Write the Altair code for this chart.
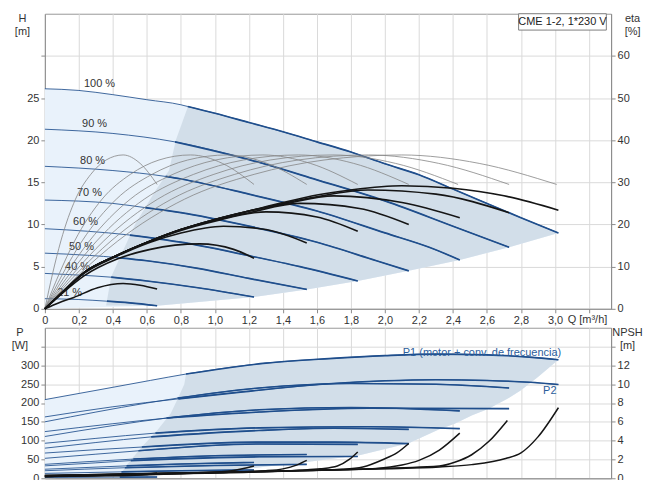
import altair as alt
import pandas as pd

FONT = "Liberation Sans"
BLUE = "#1f4e8c"
LIGHT = "#e9f2fb"
DARK = "#cfdbe7"
GREY = "#858585"
BLACK = "#151515"
TXT = "#333333"

Q_DOMAIN = [0, 3.33]
H_DOMAIN = [0, 35]
ETA_DOMAIN = [0, 70]
P_DOMAIN = [0, 400]
NPSH_DOMAIN = [0, 16]

Q_TICKS = [0, 0.2, 0.4, 0.6, 0.8, 1.0, 1.2, 1.4, 1.6, 1.8, 2.0, 2.2, 2.4, 2.6, 2.8, 3.0, 3.2]
H_TICKS = [0, 5, 10, 15, 20, 25, 30]
ETA_TICKS = [0, 10, 20, 30, 40, 50, 60]
P_TICKS = [0, 50, 100, 150, 200, 250, 300, 350]
NPSH_TICKS = [0, 2, 4, 6, 8, 10, 12, 14]

# ---------- H-Q curves (Q in m3/h, H in m) ----------
Q100 = [0, 0.2, 0.4, 0.6, 0.8, 0.84, 1.0, 1.2, 1.4, 1.6, 1.8, 2.0, 2.2, 2.4, 2.6, 2.8, 3.02]
H100 = [26.1, 25.9, 25.4, 24.8, 24.2, 24.0, 23.2, 22.1, 21.0, 19.8, 18.6, 17.2, 15.9, 14.2, 12.5, 10.8, 9.0]
Q90 = [0, 0.4, 0.765, 1.2, 1.6, 2.0, 2.4, 2.73]
H90 = [21.3, 20.8, 19.8, 17.7, 15.3, 12.8, 9.8, 7.3]
Q80 = [0, 0.4, 0.71, 0.8, 1.2, 1.6, 2.0, 2.26, 2.44]
H80 = [16.9, 16.4, 15.7, 15.4, 13.6, 11.6, 9.0, 7.3, 5.8]
Q70 = [0, 0.4, 0.59, 0.8, 1.2, 1.6, 1.95, 2.14]
H70 = [12.9, 12.5, 12.0, 11.4, 9.8, 7.9, 5.7, 4.5]
Q60 = [0, 0.25, 0.5, 0.8, 1.2, 1.5, 1.84]
H60 = [9.5, 9.2, 8.75, 7.9, 6.3, 5.0, 3.3]
Q50 = [0, 0.25, 0.44, 0.6, 0.9, 1.2, 1.54]
H50 = [6.6, 6.35, 6.05, 5.7, 4.8, 3.6, 2.3]
Q40 = [0, 0.2, 0.39, 0.6, 0.9, 1.23]
H40 = [4.2, 4.0, 3.75, 3.3, 2.5, 1.4]
Q21 = [0, 0.2, 0.365, 0.5, 0.66]
H21 = [1.2, 1.1, 0.9, 0.7, 0.36]
# where each H-Q curve enters the darker shaded range (drawn thicker from there on)
HQ_SPLIT = [0.84, 0.765, 0.71, 0.59, 0.5, 0.44, 0.39, 0.365]

SPEED_TEXT = ["100 %", "90 %", "80 %", "70 %", "60 %", "50 %", "40 %", "21 %"]
SPEED_Q = [0.23, 0.219, 0.207, 0.189, 0.166, 0.142, 0.119, 0.072]
SPEED_H = [26.7, 21.9, 17.5, 13.7, 10.3, 7.3, 4.96, 1.9]

# shading of the operating range (top)
LOW_H_Q = [3.02, 2.73, 2.44, 2.14, 1.84, 1.54, 1.23, 0.66, 0]
LOW_H = [9.0, 7.3, 5.8, 4.5, 3.3, 2.3, 1.4, 0.36, 0]
DIV_H_Q = [0.36, 0.39, 0.53, 0.65, 0.73, 0.77, 0.84]
DIV_H = [0.4, 3.8, 10.0, 14.0, 16.4, 20.0, 23.9]

# ---------- efficiency curves, thin grey (eta %) ----------
GREY_ETA = [0, 8.3, 16.1, 26.0, 31.9, 35.3, 36.5, 34.5, 29.5]
G21_Q = [0, 0.045, 0.094, 0.18, 0.27, 0.36, 0.46, 0.56, 0.66]
G40_Q = [0, 0.084, 0.175, 0.336, 0.503, 0.671, 0.857, 1.044, 1.23]
G50_Q = [0, 0.105, 0.219, 0.42, 0.63, 0.84, 1.073, 1.307, 1.54]
G60_Q = [0, 0.125, 0.262, 0.502, 0.753, 1.004, 1.282, 1.561, 1.84]
G70_Q = [0, 0.146, 0.305, 0.584, 0.875, 1.167, 1.491, 1.816, 2.14]
G80_Q = [0, 0.166, 0.346, 0.663, 0.994, 1.325, 1.694, 2.062, 2.43]
G90_Q = [0, 0.186, 0.389, 0.744, 1.117, 1.489, 1.903, 2.316, 2.73]
G100_Q = [0, 0.205, 0.429, 0.821, 1.231, 1.642, 2.098, 2.554, 3.01]

# ---------- efficiency curves, thick black (eta %) ----------
B21_Q = [0, 0.08, 0.17, 0.31, 0.46, 0.56, 0.66]
B21_E = [0, 1.4, 2.7, 5.0, 6.0, 5.6, 4.7]
B40_Q = [0, 0.1, 0.23, 0.425, 0.62, 0.91, 1.11, 1.23]
B40_E = [0, 3.6, 7.8, 11.8, 14.1, 15.4, 14.1, 12.0]
B50_Q = [0, 0.1, 0.23, 0.42, 0.62, 0.8, 1.05, 1.3, 1.54]
B50_E = [0, 3.8, 8.4, 12.4, 15.8, 18.0, 19.6, 18.8, 15.6]
B60_Q = [0, 0.1, 0.23, 0.42, 0.62, 0.8, 1.0, 1.3, 1.6, 1.84]
B60_E = [0, 3.8, 8.6, 12.6, 16.0, 18.6, 20.8, 23.0, 21.8, 18.4]
B70_Q = [0, 0.1, 0.23, 0.42, 0.62, 0.8, 1.0, 1.2, 1.5, 1.85, 2.14]
B70_E = [0, 3.8, 8.6, 12.6, 16.1, 18.8, 21.0, 22.8, 25.0, 23.8, 20.0]
B80_Q = [0, 0.1, 0.23, 0.42, 0.62, 0.8, 1.0, 1.2, 1.4, 1.7, 2.1, 2.44]
B80_E = [0, 3.8, 8.6, 12.6, 16.1, 18.8, 21.2, 23.2, 24.8, 26.8, 25.2, 21.6]
B90_Q = [0, 0.1, 0.23, 0.42, 0.62, 0.8, 1.0, 1.2, 1.4, 1.6, 1.9, 2.3, 2.73]
B90_E = [0, 3.8, 8.6, 12.6, 16.1, 18.8, 21.2, 23.2, 25.0, 26.6, 28.2, 27.2, 22.8]
B100_Q = [0, 0.1, 0.23, 0.42, 0.62, 0.8, 1.0, 1.2, 1.4, 1.6, 1.8, 2.1, 2.4, 2.7, 3.02]
B100_E = [0, 3.8, 8.6, 12.6, 16.1, 18.8, 21.2, 23.2, 25.2, 27.0, 28.2, 29.2, 28.6, 26.8, 23.4]

# ---------- power curves (W) ----------
P1_100_Q = [0, 0.33, 0.62, 0.83, 1.3, 1.67, 2.0, 2.3, 2.6, 2.85, 3.02]
P1_100 = [209, 236, 260, 277, 306, 318, 326, 330, 328, 322, 315]
P2_100_Q = [0, 0.4, 0.785, 1.15, 1.67, 2.0, 2.3, 2.6, 2.85, 3.02]
P2_100 = [163, 190, 211, 229, 251, 259, 262, 260, 255, 249]
P1_90_Q = [0, 0.6, 0.78, 1.26, 1.8, 2.3, 2.73]
P1_90 = [150, 200, 213, 240, 252, 250, 240]
P2_90_Q = [0, 0.4, 0.72, 1.26, 1.9, 2.73]
P2_90 = [124, 145, 160, 176, 186, 185]
P1_80_Q = [0, 0.4, 0.715, 1.26, 1.8, 2.44]
P1_80 = [111, 140, 160, 182, 188, 179]
P2_80_Q = [0, 0.3, 0.65, 1.26, 1.9, 2.44]
P2_80 = [93, 106, 120, 134, 137, 132]
P1_70_Q = [0, 0.3, 0.625, 1.26, 1.7, 2.14]
P1_70 = [80, 95, 110, 127, 133, 130]
P2_70_Q = [0, 0.3, 0.57, 1.26, 1.7, 2.14]
P2_70 = [67, 76, 83, 96, 96, 92]
P1_60_Q = [0, 0.3, 0.55, 1.26, 1.84]
P1_60 = [53, 64, 73, 91, 90]
P2_60_Q = [0, 0.3, 0.505, 1.26, 1.84]
P2_60 = [33, 41, 47, 57, 58]
P1_50_Q = [0, 0.52, 1.0, 1.54]
P1_50 = [37, 51, 60, 63]
P2_50_Q = [0, 0.47, 1.0, 1.54]
P2_50 = [20, 28, 34, 37]
P1_40_Q = [0, 0.48, 0.8, 1.23]
P1_40 = [24, 33, 38, 42]
P2_40_Q = [0, 0.45, 0.8, 1.23]
P2_40 = [13, 17, 20, 22]
P1_21_Q = [0, 0.44, 0.66]
P1_21 = [8, 9.8, 10.5]
P2_21_Q = [0, 0.44, 0.66]
P2_21 = [2, 3.0, 3.2]
# where each power curve enters the darker shaded range
P_SPLIT = [0.83, 0.785, 0.78, 0.72, 0.715, 0.65, 0.625, 0.57, 0.55, 0.505, 0.52, 0.47, 0.48, 0.45, 0.44, 0.44]

LOW_P_Q = [3.02, 2.90, 2.80, 2.72, 2.61, 2.51, 2.41, 2.32, 2.14, 1.85, 1.54, 1.2, 0.9, 0.6, 0.3, 0]
LOW_P = [315, 269, 234, 211, 185, 167, 145, 130, 93, 61, 43, 26, 15, 8, 3, 0]
DIV_P_Q = [0.44, 0.49, 0.57, 0.66, 0.74, 0.78, 0.82, 0.83]
DIV_P = [8, 40, 83, 127, 172, 210, 250, 277]

# ---------- NPSH curves (m) ----------
N21_Q = [0, 0.3, 0.5, 0.6, 0.66]
N21 = [0.2, 0.25, 0.3, 0.4, 0.55]
N40_Q = [0, 0.5, 0.9, 1.1, 1.23]
N40 = [0.2, 0.35, 0.55, 0.8, 1.3]
N50_Q = [0, 0.5, 1.0, 1.3, 1.4, 1.48, 1.54]
N50 = [0.2, 0.4, 0.6, 0.8, 1.0, 1.4, 1.9]
N60_Q = [0, 0.6, 1.2, 1.5, 1.62, 1.72, 1.79, 1.84]
N60 = [0.2, 0.45, 0.65, 0.85, 1.0, 1.3, 2.0, 2.8]
N70_Q = [0, 0.7, 1.4, 1.75, 1.87, 1.99, 2.07, 2.14]
N70 = [0.25, 0.5, 0.75, 0.95, 1.2, 2.0, 2.7, 3.7]
N80_Q = [0, 0.8, 1.6, 1.95, 2.1, 2.2, 2.32, 2.44]
N80 = [0.25, 0.55, 0.85, 1.05, 1.4, 1.9, 3.0, 4.8]
N90_Q = [0, 0.9, 1.8, 2.32, 2.41, 2.51, 2.61, 2.72]
N90 = [0.3, 0.6, 0.95, 1.3, 1.7, 2.5, 3.9, 6.15]
N100_Q = [0, 1.0, 2.0, 2.32, 2.51, 2.71, 2.80, 2.90, 3.02]
N100 = [0.3, 0.65, 1.0, 1.2, 1.45, 2.1, 2.7, 4.4, 7.5]

LEGEND_TEXT = "CME 1-2, 1*230 V"
P1_TEXT = "P1 (motor + conv. de frecuencia)"
P2_TEXT = "P2"


def curves(items, splits=None):
    frames = []
    for k, (name, q, v) in enumerate(items):
        df = pd.DataFrame({"Q": q, "V": v, "curve": name, "i": list(range(len(q)))})
        df["split"] = splits[k] if splits is not None else 0.0
        frames.append(df)
    return pd.concat(frames, ignore_index=True)


hq_df = curves([("100", Q100, H100), ("90", Q90, H90), ("80", Q80, H80), ("70", Q70, H70),
                ("60", Q60, H60), ("50", Q50, H50), ("40", Q40, H40), ("21", Q21, H21)], HQ_SPLIT)
grey_df = curves([("21", G21_Q, GREY_ETA), ("40", G40_Q, GREY_ETA), ("50", G50_Q, GREY_ETA),
                  ("60", G60_Q, GREY_ETA), ("70", G70_Q, GREY_ETA), ("80", G80_Q, GREY_ETA),
                  ("90", G90_Q, GREY_ETA), ("100", G100_Q, GREY_ETA)])
black_df = curves([("21", B21_Q, B21_E), ("40", B40_Q, B40_E), ("50", B50_Q, B50_E),
                   ("60", B60_Q, B60_E), ("70", B70_Q, B70_E), ("80", B80_Q, B80_E),
                   ("90", B90_Q, B90_E), ("100", B100_Q, B100_E)])
p_df = curves([("p1_100", P1_100_Q, P1_100), ("p2_100", P2_100_Q, P2_100),
               ("p1_90", P1_90_Q, P1_90), ("p2_90", P2_90_Q, P2_90),
               ("p1_80", P1_80_Q, P1_80), ("p2_80", P2_80_Q, P2_80),
               ("p1_70", P1_70_Q, P1_70), ("p2_70", P2_70_Q, P2_70),
               ("p1_60", P1_60_Q, P1_60), ("p2_60", P2_60_Q, P2_60),
               ("p1_50", P1_50_Q, P1_50), ("p2_50", P2_50_Q, P2_50),
               ("p1_40", P1_40_Q, P1_40), ("p2_40", P2_40_Q, P2_40),
               ("p1_21", P1_21_Q, P1_21), ("p2_21", P2_21_Q, P2_21)], P_SPLIT)
n_df = curves([("21", N21_Q, N21), ("40", N40_Q, N40), ("50", N50_Q, N50), ("60", N60_Q, N60),
               ("70", N70_Q, N70), ("80", N80_Q, N80), ("90", N90_Q, N90), ("100", N100_Q, N100)])

top_right_q = [q for q in Q100 if q >= 0.84]
top_right_h = [h for q, h in zip(Q100, H100) if q >= 0.84]
bot_right_q = [q for q in P1_100_Q if q >= 0.83]
bot_right_p = [p for q, p in zip(P1_100_Q, P1_100) if q >= 0.83]

light_top = curves([("light", Q100 + LOW_H_Q, H100 + LOW_H)])
dark_top = curves([("dark", DIV_H_Q + top_right_q + LOW_H_Q[1:-1], DIV_H + top_right_h + LOW_H[1:-1])])
light_bot = curves([("light", P1_100_Q + LOW_P_Q, P1_100 + LOW_P)])
dark_bot = curves([("dark", DIV_P_Q + bot_right_q + LOW_P_Q[1:-3], DIV_P + bot_right_p + LOW_P[1:-3])])

speed_df = pd.DataFrame({"Q": SPEED_Q, "V": SPEED_H, "t": SPEED_TEXT})
legend_df = pd.DataFrame({"Q": [2.786], "Q2": [3.302], "V": [33.06], "V2": [35.0],
                          "tq": [3.044], "tv": [34.04], "t": [LEGEND_TEXT]})
ptext_df = pd.DataFrame({"Q": [2.105, 2.93], "V": [333, 233], "t": [P1_TEXT, P2_TEXT]})

# ---------- axes ----------
Q_LABEL = "datum.value > 3.1 ? '' : (datum.value == 0 ? '0' : replace(format(datum.value, '.1f'), '.', ','))"
TITLE_Y = -1.5
X_TOP_AXIS = alt.Axis(values=Q_TICKS, labelExpr=Q_LABEL, title="Q [m³/h]", titleX=524, titleY=11,
                      titleAlign="left", titleBaseline="middle", titleFontWeight="normal", grid=True,
                      tickSize=4, labelPadding=2, labelFlush=False, labelOverlap=False)
X_BOT_AXIS = alt.Axis(values=Q_TICKS, labels=False, ticks=False, title=None, grid=True)
H_AXIS = alt.Axis(values=H_TICKS, labelExpr="datum.value > 27 ? '' : datum.label",
                  title=["H", "[m]"], titleAngle=0, titleX=-23, titleY=TITLE_Y, titleAlign="center",
                  titleBaseline="top", titleLineHeight=13, titleFontWeight="normal", grid=True,
                  tickSize=4, labelPadding=2)
ETA_AXIS = alt.Axis(values=ETA_TICKS, orient="right", title=["eta", "[%]"], titleAngle=0,
                    titleX=21, titleY=TITLE_Y, titleAlign="center", titleBaseline="top",
                    titleLineHeight=13, titleFontWeight="normal", grid=False, tickSize=4, labelPadding=2)
P_AXIS = alt.Axis(values=P_TICKS, labelExpr="datum.value > 320 ? '' : datum.label",
                  title=["P", "[W]"], titleAngle=0, titleX=-25.5, titleY=TITLE_Y, titleAlign="center",
                  titleBaseline="top", titleLineHeight=13, titleFontWeight="normal", grid=True,
                  tickSize=4, labelPadding=2)
N_AXIS = alt.Axis(values=NPSH_TICKS, orient="right", labelExpr="datum.value > 13 ? '' : datum.label",
                  title=["NPSH", "[m]"], titleAngle=0, titleX=16, titleY=TITLE_Y, titleAlign="center",
                  titleBaseline="top", titleLineHeight=13, titleFontWeight="normal", grid=False,
                  tickSize=4, labelPadding=2)


def xt(field="Q"):
    return alt.X(field, type="quantitative", scale=alt.Scale(domain=Q_DOMAIN, nice=False, zero=False), axis=X_TOP_AXIS)


def xb(field="Q"):
    return alt.X(field, type="quantitative", scale=alt.Scale(domain=Q_DOMAIN, nice=False, zero=False), axis=X_BOT_AXIS)


def yh(field="V"):
    return alt.Y(field, type="quantitative", scale=alt.Scale(domain=H_DOMAIN, nice=False), axis=H_AXIS)


def ye(field="V"):
    return alt.Y(field, type="quantitative", scale=alt.Scale(domain=ETA_DOMAIN, nice=False), axis=ETA_AXIS)


def yp(field="V"):
    return alt.Y(field, type="quantitative", scale=alt.Scale(domain=P_DOMAIN, nice=False), axis=P_AXIS)


def yn(field="V"):
    return alt.Y(field, type="quantitative", scale=alt.Scale(domain=NPSH_DOMAIN, nice=False), axis=N_AXIS)


ORDER = alt.Order("i:Q")
THICK = "datum.Q >= datum.split - 1e-9"

# ---------- top panel ----------
t_light = alt.Chart(light_top).mark_line(fill=LIGHT, strokeOpacity=0).encode(x=xt(), y=yh(), order=ORDER)
t_dark = alt.Chart(dark_top).mark_line(fill=DARK, strokeOpacity=0, fillOpacity=0.9).encode(x=xt(), y=yh(), order=ORDER)
t_hq = alt.Chart(hq_df).mark_line(color=BLUE, strokeWidth=1.0, strokeOpacity=0.85, interpolate="monotone").encode(
    x=xt(), y=yh(), detail="curve:N", order=ORDER)
t_hq2 = alt.Chart(hq_df).transform_filter(THICK).mark_line(color=BLUE, strokeWidth=1.7, interpolate="monotone").encode(
    x=xt(), y=yh(), detail="curve:N", order=ORDER)
t_lbl = alt.Chart(speed_df).mark_text(align="left", baseline="middle", font=FONT, fontSize=11, color=TXT).encode(
    x=xt(), y=yh(), text="t:N")
t_box = alt.Chart(legend_df).mark_rect(fill="white", stroke="#808080", strokeWidth=1).encode(
    x=xt(), x2="Q2", y=yh(), y2="V2")
t_boxt = alt.Chart(legend_df).mark_text(align="center", baseline="middle", font=FONT, fontSize=11, color="#222").encode(
    x=xt("tq"), y=yh("tv"), text="t:N")
t_grey = alt.Chart(grey_df).mark_line(color=GREY, strokeWidth=0.8, interpolate="monotone").encode(
    x=xt(), y=ye(), detail="curve:N", order=ORDER)
t_black = alt.Chart(black_df).mark_line(color=BLACK, strokeWidth=1.6, interpolate="monotone").encode(
    x=xt(), y=ye(), detail="curve:N", order=ORDER)

top_h = alt.layer(t_light, t_dark, t_hq, t_hq2, t_lbl, t_box, t_boxt)
top_e = alt.layer(t_grey, t_black)
top = alt.layer(top_h, top_e).resolve_scale(y="independent").properties(width=568, height=296)

# ---------- bottom panel ----------
b_light = alt.Chart(light_bot).mark_line(fill=LIGHT, strokeOpacity=0).encode(x=xb(), y=yp(), order=ORDER)
b_dark = alt.Chart(dark_bot).mark_line(fill=DARK, strokeOpacity=0, fillOpacity=0.9).encode(x=xb(), y=yp(), order=ORDER)
b_p = alt.Chart(p_df).mark_line(color=BLUE, strokeWidth=1.0, strokeOpacity=0.85, interpolate="monotone").encode(
    x=xb(), y=yp(), detail="curve:N", order=ORDER)
b_p2 = alt.Chart(p_df).transform_filter(THICK).mark_line(color=BLUE, strokeWidth=1.6, interpolate="monotone").encode(
    x=xb(), y=yp(), detail="curve:N", order=ORDER)
b_txt = alt.Chart(ptext_df).mark_text(align="left", baseline="middle", font=FONT, fontSize=11, color="#2b5d9b").encode(
    x=xb(), y=yp(), text="t:N")
b_n = alt.Chart(n_df).mark_line(color=BLACK, strokeWidth=1.5, interpolate="monotone").encode(
    x=xb(), y=yn(), detail="curve:N", order=ORDER)

bot_p = alt.layer(b_light, b_dark, b_p, b_p2, b_txt)
bot = alt.layer(bot_p, b_n).resolve_scale(y="independent").properties(width=568, height=151)

chart = alt.vconcat(top, bot, spacing=19, bounds="flush").resolve_scale(
    x="independent", y="independent"
).configure_view(stroke="#999999", strokeWidth=1).configure_axis(
    labelFont=FONT, titleFont=FONT, labelFontSize=11, titleFontSize=11, labelColor=TXT,
    titleColor=TXT, titleFontWeight="normal", domainColor="#8c8c8c", tickColor="#8c8c8c",
    gridColor="#dadada", gridWidth=1
).properties(padding={"left": 2, "top": 3, "right": 0, "bottom": 0})

chart.save("out.html", embed_options={"renderer": "svg", "actions": False})
